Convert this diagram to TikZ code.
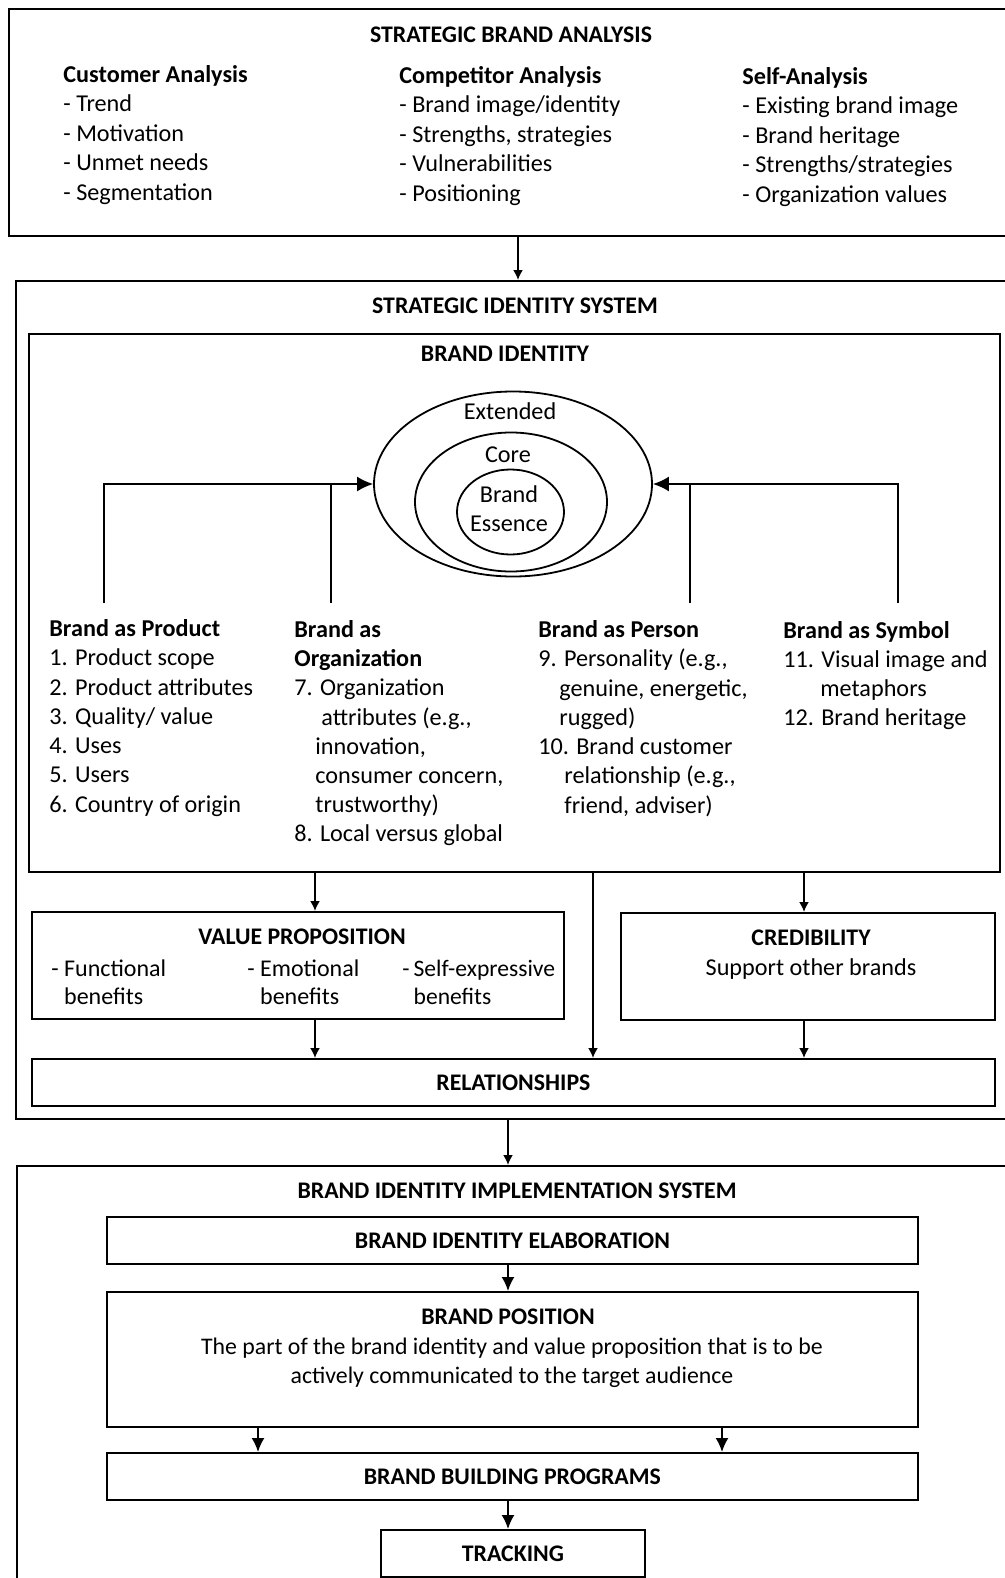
\documentclass[tikz,border=0pt]{standalone}
\usepackage{fontspec}
\setmainfont{Carlito}
\usetikzlibrary{shapes.geometric,arrows.meta}
% fixed height at the start of a text block, so block tops line up with baselines
\newcommand{\lnstrut}{\rule{0pt}{10pt}}
\begin{document}
\begin{tikzpicture}[x=0.5pt,y=-0.5pt,
  box/.style={draw,rectangle,anchor=north west,inner sep=0pt,line width=0.9pt},
  boxt/.style={box,font=\fontsize{11.9}{14}\selectfont\bfseries,text height=7.7pt,text depth=0pt},
  txt/.style={inner sep=0pt,font=\fontsize{12.1}{14.75}\selectfont},
  blk/.style={txt,anchor=north west,align=left},
  hd/.style={txt,font=\fontsize{11.9}{14}\selectfont\bfseries,text height=7.7pt,text depth=0pt},
  lbl/.style={txt,text height=7.8pt,text depth=0pt},
  line/.style={line width=0.9pt},
  arrs/.style={line,-{Latex[length=5pt,width=5pt]}},
  arrm/.style={line,-{Latex[length=7pt,width=6.5pt]}},
  arrb/.style={line,-{Latex[length=8pt,width=7.5pt]}},
  ell/.style={draw,ellipse,inner sep=0pt,line width=0.9pt},
]
\useasboundingbox (0,0) rectangle (1005,1578);
\clip (0,0) rectangle (1005,1578);

% ---------- Strategic brand analysis ----------
\node[box,minimum width=502pt,minimum height=113.5pt] (sba) at (8,8) {};
\node[hd] (sbat) at (511,35) {STRATEGIC BRAND ANALYSIS};
\node[blk] (cust) at (63,62) {\lnstrut\textbf{Customer Analysis}\\- Trend\\- Motivation\\- Unmet needs\\- Segmentation};
\node[blk] (comp) at (399,63) {\lnstrut\textbf{Competitor Analysis}\\- Brand image/identity\\- Strengths, strategies\\- Vulnerabilities\\- Positioning};
\node[blk] (self) at (742,64) {\lnstrut\textbf{Self-Analysis}\\- Existing brand image\\- Brand heritage\\- Strengths/strategies\\- Organization values};

% ---------- Strategic identity system ----------
\node[box,minimum width=498.5pt,minimum height=419pt] (sis) at (15,280) {};
\node[hd] (sist) at (515,306) {STRATEGIC IDENTITY SYSTEM};
\node[box,minimum width=485.5pt,minimum height=269pt] (bid) at (28,333) {};
\node[hd] (bidt) at (505,354) {BRAND IDENTITY};

% identity layers
\node[ell,minimum width=139pt,minimum height=92.5pt] (ext) at (513,484) {};
\node[ell,minimum width=96pt,minimum height=69.5pt] (core) at (511,502) {};
\node[ell,minimum width=53.5pt,minimum height=42.5pt] (ess) at (510.5,512) {};
\node[lbl] (extt) at (510,412) {Extended};
\node[lbl] (coret) at (508,455) {Core};
\node[txt,anchor=north,align=center,font=\fontsize{12.1}{14.5}\selectfont] (esst) at (509,482) {\lnstrut Brand\\Essence};

% four perspectives
\node[blk,font=\fontsize{12.1}{14.65}\selectfont] (prod) at (49,616) {\lnstrut\textbf{Brand as Product}\\1. Product scope\\2. Product attributes\\3. Quality/ value\\4. Uses\\5. Users\\6. Country of origin};
\node[blk,font=\fontsize{12.1}{14.6}\selectfont] (org) at (294,617) {\lnstrut\textbf{Brand as}\\\textbf{Organization}\\7. Organization\\\hspace{13.5pt}attributes (e.g.,\\\hspace{10.5pt}innovation,\\\hspace{10.5pt}consumer concern,\\\hspace{10.5pt}trustworthy)\\8. Local versus global};
\node[blk,font=\fontsize{12.1}{14.65}\selectfont] (pers) at (538,617) {\lnstrut\textbf{Brand as Person}\\9. Personality (e.g.,\\\hspace{10.5pt}genuine, energetic,\\\hspace{10.5pt}rugged)\\10. Brand customer\\\hspace{13pt}relationship (e.g.,\\\hspace{13pt}friend, adviser)};
\node[blk,font=\fontsize{12.1}{14.5}\selectfont] (symb) at (783,618) {\lnstrut\textbf{Brand as Symbol}\\11. Visual image and\\\hspace{18.5pt}metaphors\\12. Brand heritage};

\coordinate (l1) at (104,603);
\coordinate (l2) at (331,603);
\coordinate (r1) at (690,603);
\coordinate (r2) at (898,603);
\draw[arrb] (l1) |- (ext.west);
\draw[line] (l2) -- (l2 |- ext.west);
\draw[arrb] (r2) |- (ext.east);
\draw[line] (r1) -- (r1 |- ext.east);

% value proposition, credibility, relationships
\node[box,minimum width=266pt,minimum height=53.5pt] (vp) at (31,911) {};
\node[hd] (vpt) at (302,937) {VALUE PROPOSITION};
\node[blk,font=\fontsize{12}{14}\selectfont] (fun) at (51,956) {\lnstrut- Functional\\\phantom{- }benefits};
\node[blk,font=\fontsize{12}{14}\selectfont] (emo) at (247,956) {\lnstrut- Emotional\\\phantom{- }benefits};
\node[blk,font=\fontsize{11.8}{14}\selectfont] (sex) at (402,956) {\lnstrut-\hspace{2pt}Self-expressive\\\phantom{-\hspace{2pt}}benefits};

\node[box,minimum width=187pt,minimum height=53.5pt] (cred) at (620,912) {};
\node[hd] (credt) at (811,938) {CREDIBILITY};
\node[lbl] (credx) at (811,968) {Support other brands};

\node[boxt,minimum width=481.5pt,minimum height=23.5pt] (rel) at (31,1058) {RELATIONSHIPS};

% ---------- Brand identity implementation system ----------
\node[box,minimum width=498pt,minimum height=212.5pt] (bii) at (16,1165) {};
\node[hd] (biit) at (517,1191) {BRAND IDENTITY IMPLEMENTATION SYSTEM};
\node[boxt,minimum width=405.5pt,minimum height=23.5pt] (elab) at (106,1216) {BRAND IDENTITY ELABORATION};
\node[box,minimum width=405.5pt,minimum height=67.5pt] (pos) at (106,1291) {};
\node[hd] (post) at (508,1317) {BRAND POSITION};
\node[txt,anchor=north,align=center,font=\fontsize{11.9}{14.5}\selectfont] (posx) at (512,1334) {\lnstrut The part of the brand identity and value proposition that is to be\\actively communicated to the target audience};
\node[boxt,minimum width=405.5pt,minimum height=23.5pt] (bbp) at (106,1452) {BRAND BUILDING PROGRAMS};
\node[boxt,minimum width=132pt,minimum height=23.5pt] (trk) at (380,1529) {TRACKING};

% ---------- connectors ----------
\coordinate (xa) at (518,0);
\coordinate (xb) at (508,0);
\coordinate (xc) at (315,0);
\coordinate (xd) at (593,0);
\coordinate (xe) at (804,0);
\coordinate (xf) at (258,0);
\coordinate (xg) at (722,0);
\draw[arrs] (sba.south -| xa) -- (sis.north -| xa);
\draw[arrs] (bid.south -| xc) -- (vp.north -| xc);
\draw[arrs] (bid.south -| xd) -- (rel.north -| xd);
\draw[arrs] (bid.south -| xe) -- (cred.north -| xe);
\draw[arrs] (vp.south -| xc) -- (rel.north -| xc);
\draw[arrs] (cred.south -| xe) -- (rel.north -| xe);
\draw[arrs] (sis.south -| xb) -- (bii.north -| xb);
\draw[arrm] (elab.south -| xb) -- (pos.north -| xb);
\draw[arrm] (pos.south -| xf) -- (bbp.north -| xf);
\draw[arrm] (pos.south -| xg) -- (bbp.north -| xg);
\draw[arrm] (bbp.south -| xb) -- (trk.north -| xb);
\end{tikzpicture}
\end{document}
